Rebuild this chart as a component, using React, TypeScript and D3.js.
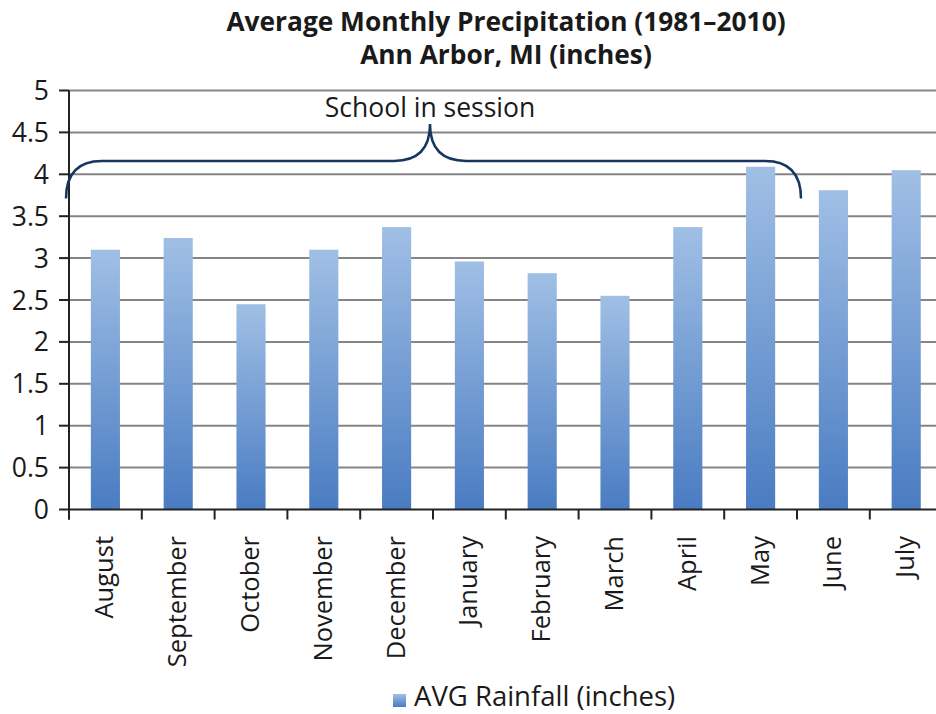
import React from "react";
import * as d3 from "d3";

const months = [
  "August", "September", "October", "November", "December", "January",
  "February", "March", "April", "May", "June", "July",
];
const rainfall = [3.1, 3.24, 2.45, 3.1, 3.37, 2.96, 2.82, 2.55, 3.37, 4.09, 3.81, 4.05];
const yTicks = [0, 0.5, 1, 1.5, 2, 2.5, 3, 3.5, 4, 4.5, 5];
const titleLines = ["Average Monthly Precipitation (1981–2010)", "Ann Arbor, MI (inches)"];
const seriesName = "AVG Rainfall (inches)";
const bracketLabel = "School in session";
// bracket spans from the start of the first month to the end of this one
const sessionEnd = "May";

const W = 936;
const H = 714;
const left = 69;
const bandW = 72.8;
const right = left + bandW * months.length;
const top = 90.5;
const bottom = 509.5;
const FONT = "'Open Sans', 'DejaVu Sans', sans-serif";

export default function App() {
  const x = d3.scaleBand<string>().domain(months).range([left, right]).paddingInner(0.6).paddingOuter(0.3);
  const y = d3.scaleLinear().domain([0, 5]).range([bottom, top]);
  const bandEdges = months.map((_, i) => left + i * bandW).concat([right]);

  // curly brace over the school months
  const bx0 = left - 3;
  const bx1 = left + (months.indexOf(sessionEnd) + 1) * bandW + 4;
  const mid = 430;
  const yLine = y(4.16);
  const yEnd = y(3.71);
  const yTip = y(4.6);
  const r = 36;
  const bracePath = [
    `M${bx0},${yEnd}`,
    `Q${bx0},${yLine} ${bx0 + r},${yLine}`,
    `L${mid - r},${yLine}`,
    `Q${mid},${yLine} ${mid},${yTip}`,
    `Q${mid},${yLine} ${mid + r},${yLine}`,
    `L${bx1 - r},${yLine}`,
    `Q${bx1},${yLine} ${bx1},${yEnd}`,
  ].join(" ");

  return (
    <svg width={W} height={H} style={{ position: "absolute", left: 0, top: 0, background: "#fff" }}>
      <defs>
        <linearGradient id="barFill" x1="0" y1="0" x2="0" y2="1">
          <stop offset="0%" stopColor="#a0bfe5" />
          <stop offset="100%" stopColor="#4a7cc2" />
        </linearGradient>
      </defs>

      {titleLines.map((t, i) => (
        <text key={t} x={506} y={31 + i * 33} textAnchor="middle" fontFamily={FONT}
          fontWeight="bold" fontSize={26.3} fill="#1a1a1a">{t}</text>
      ))}

      {yTicks.map((v) => (
        <g key={v}>
          {v > 0 && <line x1={left} x2={W} y1={y(v)} y2={y(v)} stroke="#858585" strokeWidth={2} />}
          <line x1={left - 10} x2={left} y1={y(v)} y2={y(v)} stroke="#222" strokeWidth={2} />
          <text x={49} y={y(v)} dy="0.36em" textAnchor="end" fontFamily={FONT} fontSize={26.5} fill="#1a1a1a">{v}</text>
        </g>
      ))}

      {months.map((m, i) => (
        <rect key={m} x={x(m)} width={x.bandwidth()} y={y(rainfall[i])}
          height={bottom - y(rainfall[i])} fill="url(#barFill)" />
      ))}

      <line x1={left} x2={W} y1={bottom} y2={bottom} stroke="#222" strokeWidth={2} />
      <line x1={left} x2={left} y1={top} y2={bottom + 10} stroke="#222" strokeWidth={2} />
      {bandEdges.map((e, i) => (
        <line key={i} x1={e} x2={e} y1={bottom} y2={bottom + 10} stroke="#222" strokeWidth={2} />
      ))}

      {months.map((m) => {
        const cx = (x(m) as number) + x.bandwidth() / 2 + 8;
        return (
          <text key={m} transform={`translate(${cx},536) rotate(-90)`} textAnchor="end"
            fontFamily={FONT} fontSize={25.5} fill="#1a1a1a">{m}</text>
        );
      })}

      <path d={bracePath} fill="none" stroke="#17365f" strokeWidth={2.5} />
      <text x={mid} y={117} textAnchor="middle" fontFamily={FONT} fontSize={26.5} fill="#1a1a1a">{bracketLabel}</text>

      <rect x={393} y={694} width={13} height={13} fill="url(#barFill)" />
      <text x={414} y={706} fontFamily={FONT} fontSize={27.5} fill="#1a1a1a">{seriesName}</text>
    </svg>
  );
}
